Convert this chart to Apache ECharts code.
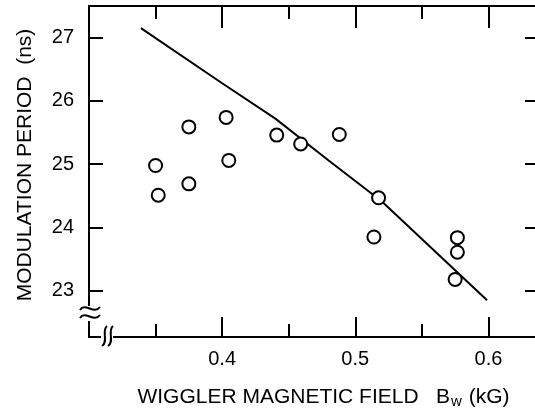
<!DOCTYPE html>
<html>
<head>
<meta charset="utf-8">
<script src="https://cdn.jsdelivr.net/npm/echarts@6/dist/echarts.min.js"></script>
<style>
html,body{margin:0;padding:0;background:#fff;}
#chart{width:535px;height:411px;}
</style>
</head>
<body>
<div id="chart"></div>
<script>
// Measured points (Bw in kG, period in ns)
const measuredBw = [0.350, 0.352, 0.375, 0.375, 0.403, 0.405, 0.441, 0.459, 0.488, 0.5175, 0.514, 0.5767, 0.5767, 0.575];
const measuredPeriod = [24.98, 24.51, 25.59, 24.69, 25.74, 25.06, 25.46, 25.32, 25.47, 24.47, 23.85, 23.84, 23.61, 23.18];
// Theory curve
const theoryBw = [0.339, 0.40, 0.44, 0.48, 0.52, 0.56, 0.599];
const theoryPeriod = [27.15, 26.28, 25.72, 25.06, 24.41, 23.62, 22.85];
// Tick labels
const xTickValues = [0.4, 0.5, 0.6];
const yTickValues = [23, 24, 25, 26, 27];

const FONT = "'Liberation Sans', Arial, Helvetica, sans-serif";
const chart = echarts.init(document.getElementById('chart'), null, {renderer: 'canvas'});

const axisLine = {show: true, lineStyle: {color: '#000', width: 2}};

chart.setOption({
  animation: false,
  backgroundColor: '#fff',
  grid: {left: 89, top: 6, width: 450, height: 331, containLabel: false, outerBoundsMode: 'none'},
  xAxis: [
    {
      type: 'value', position: 'bottom', min: 0.3, max: 0.638, interval: 0.1,
      axisLine: axisLine,
      axisTick: {show: true, inside: true, length: 20, customValues: xTickValues, lineStyle: {color: '#000', width: 2}},
      minorTick: {show: true, splitNumber: 2, length: 13, lineStyle: {color: '#000', width: 2}},
      axisLabel: {customValues: xTickValues, formatter: v => v.toFixed(1), margin: 12, fontSize: 20, color: '#000', fontFamily: FONT},
      splitLine: {show: false}, minorSplitLine: {show: false},
      name: 'WIGGLER MAGNETIC FIELD   B{s|w} (kG)',
      nameLocation: 'middle', nameGap: 48,
      nameTextStyle: {fontSize: 21, color: '#000', fontFamily: FONT, padding: [0, 0, 0, 19],
        rich: {s: {fontSize: 15, fontFamily: FONT, color: '#000', padding: [9, 1, 0, 1]}}}
    },
    {
      type: 'value', position: 'top', min: 0.3, max: 0.638, interval: 0.1,
      axisLine: axisLine,
      axisTick: {show: true, inside: true, length: 22, customValues: xTickValues, lineStyle: {color: '#000', width: 2}},
      minorTick: {show: true, splitNumber: 2, length: 13, lineStyle: {color: '#000', width: 2}},
      axisLabel: {show: false},
      splitLine: {show: false}, minorSplitLine: {show: false}
    }
  ],
  yAxis: [
    {
      type: 'value', position: 'left', min: 22.27, max: 27.5,
      axisLine: axisLine,
      axisTick: {show: true, inside: true, length: 14, customValues: yTickValues, lineStyle: {color: '#000', width: 2}},
      axisLabel: {customValues: yTickValues, formatter: v => String(Math.round(v)), margin: 15, fontSize: 20, color: '#000', fontFamily: FONT},
      splitLine: {show: false},
      name: 'MODULATION PERIOD  (ns)',
      nameLocation: 'middle', nameRotate: 90, nameGap: 53,
      nameTextStyle: {fontSize: 21, color: '#000', fontFamily: FONT, padding: [0, 0, 0, 13]}
    },
    {
      type: 'value', position: 'right', min: 22.27, max: 27.5,
      axisLine: axisLine,
      axisTick: {show: true, inside: true, length: 14, customValues: yTickValues, lineStyle: {color: '#000', width: 2}},
      axisLabel: {show: false},
      splitLine: {show: false}
    }
  ],
  series: [
    {
      type: 'line', xAxisIndex: 0, yAxisIndex: 0,
      data: theoryBw.map((x, i) => [x, theoryPeriod[i]]),
      symbol: 'none', lineStyle: {color: '#000', width: 2}, z: 2
    },
    {
      type: 'scatter', xAxisIndex: 0, yAxisIndex: 0,
      data: measuredBw.map((x, i) => [x, measuredPeriod[i]]),
      symbol: 'circle', symbolSize: 13,
      itemStyle: {color: '#fff', borderColor: '#000', borderWidth: 2, opacity: 1}, z: 3
    }
  ],
  graphic: [
    // axis break on y axis
    {type: 'rect', shape: {x: 84, y: 306, width: 12, height: 15}, style: {fill: '#fff'}, z: 100},
    {type: 'bezierCurve', shape: {x1: 80, y1: 310, cpx1: 85, cpy1: 302, cpx2: 94, cpy2: 315, x2: 100, y2: 307}, style: {stroke: '#000', lineWidth: 2, fill: null}, z: 101},
    {type: 'bezierCurve', shape: {x1: 80, y1: 318, cpx1: 85, cpy1: 310, cpx2: 94, cpy2: 323, x2: 100, y2: 315}, style: {stroke: '#000', lineWidth: 2, fill: null}, z: 101},
    // axis break on x axis
    {type: 'rect', shape: {x: 101, y: 332, width: 12, height: 10}, style: {fill: '#fff'}, z: 100},
    {type: 'bezierCurve', shape: {x1: 107, y1: 326, cpx1: 101, cpy1: 331, cpx2: 109, cpy2: 341, x2: 102, y2: 346}, style: {stroke: '#000', lineWidth: 2, fill: null}, z: 101},
    {type: 'bezierCurve', shape: {x1: 113, y1: 326, cpx1: 107, cpy1: 331, cpx2: 115, cpy2: 341, x2: 108, y2: 346}, style: {stroke: '#000', lineWidth: 2, fill: null}, z: 101}
  ]
});
</script>
</body>
</html>
